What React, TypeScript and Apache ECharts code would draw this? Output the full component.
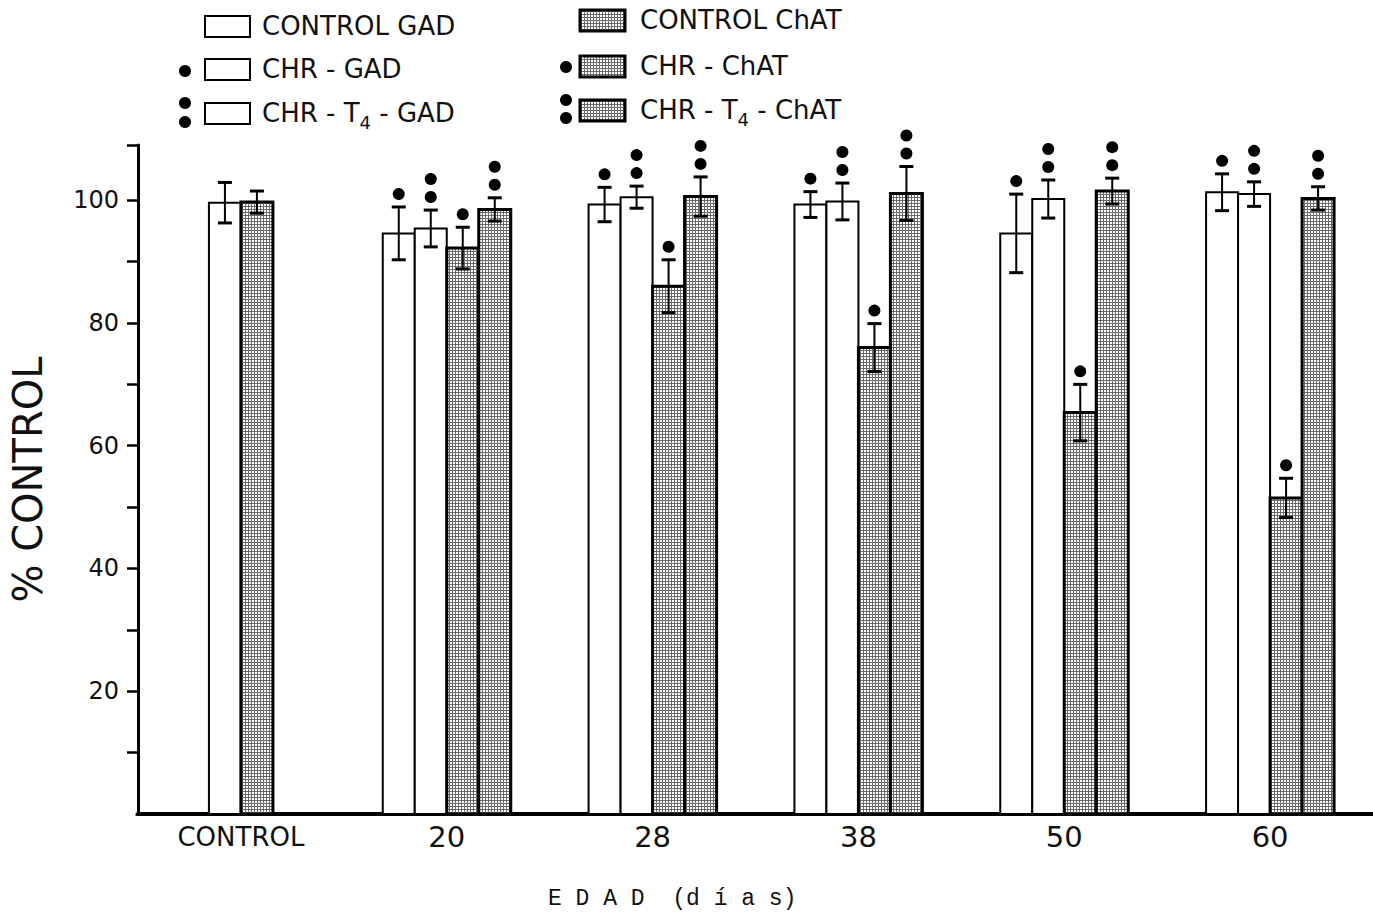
import React, { useEffect, useRef } from "react";
import * as echarts from "echarts";

// ---- data ----
const categories = ["CONTROL", "20", "28", "38", "50", "60"];
const ageCategories = ["20", "28", "38", "50", "60"];

const controlGAD = [99.6];
const controlGADErr = [3.3];
const controlChAT = [99.7];
const controlChATErr = [1.8];

const chrGAD = [94.6, 99.3, 99.3, 94.6, 101.3];
const chrGADErr = [4.3, 2.8, 2.1, 6.4, 3.0];
const chrT4GAD = [95.4, 100.5, 99.8, 100.2, 101.0];
const chrT4GADErr = [3.0, 1.8, 3.0, 3.1, 2.0];
const chrChAT = [92.2, 86.0, 76.0, 65.4, 51.5];
const chrChATErr = [3.4, 4.3, 3.9, 4.6, 3.2];
const chrT4ChAT = [98.5, 100.6, 101.1, 101.5, 100.3];
const chrT4ChATErr = [1.9, 3.2, 4.4, 2.1, 1.9];

const yTickLabels = [20, 40, 60, 80, 100];

const FONT = "DejaVu Sans";
const BAR_W = 32;

function makePattern() {
  const c = document.createElement("canvas");
  c.width = 3;
  c.height = 3;
  const ctx = c.getContext("2d")!;
  ctx.fillStyle = "#ffffff";
  ctx.fillRect(0, 0, 3, 3);
  ctx.fillStyle = "#6a6a6a";
  ctx.fillRect(0, 2, 3, 1);
  ctx.fillRect(2, 0, 1, 2);
  return { image: c, repeat: "repeat", imageWidth: 3, imageHeight: 3 } as any;
}

function toData(cats: string[], vals: number[], errs: number[]) {
  return vals.map((v, i) => [categories.indexOf(cats[i]), v, errs[i]]);
}

function makeRender(offset: number, fill: any, strokeW: number, dots: number) {
  return (params: any, api: any) => {
    const cat = api.value(0);
    const v = api.value(1);
    const e = api.value(2);
    const p0 = api.coord([cat, 0]);
    const p1 = api.coord([cat, v]);
    const pHi = api.coord([cat, v + e]);
    const pLo = api.coord([cat, v - e]);
    const xc = p0[0] + offset;
    const children: any[] = [
      {
        type: "rect",
        shape: { x: xc - BAR_W / 2, y: p1[1], width: BAR_W, height: p0[1] - p1[1] },
        style: { fill, stroke: "#000", lineWidth: strokeW },
      },
      {
        type: "line",
        shape: { x1: xc, y1: pHi[1], x2: xc, y2: pLo[1] },
        style: { stroke: "#000", lineWidth: 2 },
      },
      {
        type: "line",
        shape: { x1: xc - 7, y1: pHi[1], x2: xc + 7, y2: pHi[1] },
        style: { stroke: "#000", lineWidth: 3 },
      },
      {
        type: "line",
        shape: { x1: xc - 7, y1: pLo[1], x2: xc + 7, y2: pLo[1] },
        style: { stroke: "#000", lineWidth: 3 },
      },
    ];
    for (let i = 0; i < dots; i++) {
      children.push({
        type: "circle",
        shape: { cx: xc, cy: pHi[1] - 13 - i * 18, r: 6 },
        style: { fill: "#000" },
      });
    }
    return { type: "group", children };
  };
}

export default function App() {
  const ref = useRef<HTMLDivElement>(null);

  useEffect(() => {
    if (!ref.current) return;
    const chart = echarts.init(ref.current, null, { renderer: "svg" });
    const pattern = makePattern();
    const white = "#ffffff";

    const seriesDefs = [
      { name: "CONTROL GAD", data: toData(["CONTROL"], controlGAD, controlGADErr), slot: 0, n: 2, fill: white, sw: 2, dots: 0 },
      { name: "CONTROL ChAT", data: toData(["CONTROL"], controlChAT, controlChATErr), slot: 1, n: 2, fill: pattern, sw: 3, dots: 0 },
      { name: "CHR - GAD", data: toData(ageCategories, chrGAD, chrGADErr), slot: 0, n: 4, fill: white, sw: 2, dots: 1 },
      { name: "CHR - T4 - GAD", data: toData(ageCategories, chrT4GAD, chrT4GADErr), slot: 1, n: 4, fill: white, sw: 2, dots: 2 },
      { name: "CHR - ChAT", data: toData(ageCategories, chrChAT, chrChATErr), slot: 2, n: 4, fill: pattern, sw: 3, dots: 1 },
      { name: "CHR - T4 - ChAT", data: toData(ageCategories, chrT4ChAT, chrT4ChATErr), slot: 3, n: 4, fill: pattern, sw: 3, dots: 2 },
    ];

    const series = seriesDefs.map((d) => ({
      type: "custom",
      name: d.name,
      data: d.data,
      encode: { x: 0, y: 1 },
      renderItem: makeRender((d.slot - (d.n - 1) / 2) * BAR_W, d.fill, d.sw, d.dots),
    }));

    const legendText = (x: number, y: number, text: string) => ({
      type: "text",
      x,
      y,
      style: {
        text,
        fill: "#111",
        font: `26px "${FONT}"`,
        verticalAlign: "middle",
        lineHeight: 36,
        rich: {
          s: { fontSize: 18, fontFamily: FONT, verticalAlign: "bottom", lineHeight: 36, fill: "#111" },
        },
      },
    });
    const swatch = (x: number, y: number, fill: any, lw: number) => ({
      type: "rect",
      shape: { x, y, width: 45, height: 21 },
      style: { fill, stroke: "#000", lineWidth: lw },
    });
    const dot = (cx: number, cy: number) => ({
      type: "circle",
      shape: { cx, cy, r: 6 },
      style: { fill: "#000" },
    });

    const graphic = [
      swatch(205, 16, white, 2),
      legendText(262, 26, "CONTROL GAD"),
      dot(185, 71),
      swatch(205, 59, white, 2),
      legendText(262, 69, "CHR - GAD"),
      dot(185, 103),
      dot(185, 122),
      swatch(205, 103, white, 2),
      legendText(262, 113, "CHR - T{s|4} - GAD"),
      swatch(580, 10, pattern, 3),
      legendText(640, 20, "CONTROL ChAT"),
      dot(566, 67),
      swatch(580, 56, pattern, 3),
      legendText(640, 66, "CHR - ChAT"),
      dot(566, 100),
      dot(566, 118),
      swatch(580, 100, pattern, 3),
      legendText(640, 110, "CHR - T{s|4} - ChAT"),
      {
        type: "text",
        x: 548,
        y: 899,
        style: {
          text: "E D A D  (d í a s)",
          fill: "#111",
          font: '23px "Liberation Mono"',
          verticalAlign: "middle",
        },
      },
      {
        type: "rect",
        z: 100,
        shape: { x: 120, y: 810, width: 15.5, height: 8 },
        style: { fill: "#ffffff" },
      },
    ];

    chart.setOption({
      animation: false,
      backgroundColor: "#ffffff",
      grid: { left: 137, right: 0, top: 145, bottom: 98, containLabel: false },
      xAxis: {
        type: "category",
        data: categories,
        axisLine: { show: true, lineStyle: { color: "#000", width: 4 } },
        axisTick: { show: false },
        splitLine: { show: false },
        axisLabel: {
          interval: 0,
          color: "#111",
          fontFamily: FONT,
          fontSize: 29,
          lineHeight: 34,
          margin: 6,
          formatter: (v: string) => (v === "CONTROL" ? "{c|CONTROL}" : v),
          rich: { c: { fontSize: 26, fontFamily: FONT, color: "#111", lineHeight: 34 } },
        },
      },
      yAxis: {
        type: "value",
        min: 0,
        max: 109,
        interval: 10,
        name: "% CONTROL",
        nameLocation: "middle",
        nameGap: 90,
        nameRotate: 90,
        nameTextStyle: { fontFamily: FONT, fontSize: 40, color: "#111" },
        axisLine: { show: true, lineStyle: { color: "#000", width: 3 } },
        axisTick: { show: true, inside: false, length: 11, lineStyle: { color: "#000", width: 2.5 } },
        splitLine: { show: false },
        axisLabel: {
          color: "#111",
          fontFamily: FONT,
          fontSize: 24,
          margin: 19,
          formatter: (v: number) => (yTickLabels.indexOf(v) >= 0 ? String(v) : ""),
        },
      },
      series,
      graphic,
    });

    return () => chart.dispose();
  }, []);

  return (
    <div
      ref={ref}
      style={{ position: "absolute", left: 0, top: 0, width: 1373, height: 912, background: "#fff" }}
    />
  );
}
